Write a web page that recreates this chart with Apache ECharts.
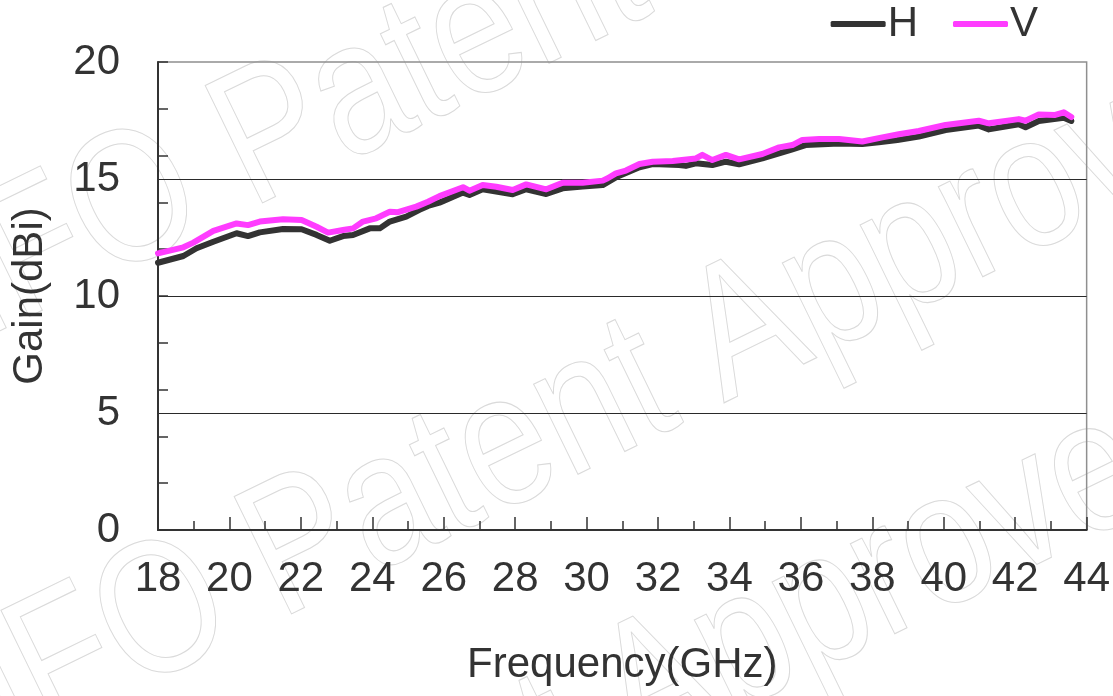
<!DOCTYPE html>
<html>
<head>
<meta charset="utf-8">
<script src="https://cdn.jsdelivr.net/npm/echarts@6/dist/echarts.min.js"></script>
<style>
  html, body { margin: 0; padding: 0; background: #fff; }
  #chart { width: 1113px; height: 696px; }
</style>
</head>
<body>
<div id="chart"></div>
<script>
// values (GHz / dBi)
var freqH = [18.0, 18.71, 19.08, 19.55, 20.2, 20.52, 20.85, 21.5, 22.02, 22.44, 22.81, 23.18, 23.46,
    23.93, 24.21, 24.49, 24.95, 25.32, 25.56, 25.88, 26.54, 26.72, 27.09, 27.93, 28.31, 28.87, 29.33,
    29.89, 30.45, 30.82, 31.48, 31.85, 32.59, 32.78, 33.06, 33.52, 33.9, 34.27, 34.92, 35.76, 36.13,
    37.07, 37.72, 38.18, 38.7, 39.3, 40.05, 40.98, 41.26, 42.1, 42.29, 42.66, 43.36, 43.57];
var gainH = [11.42, 11.71, 12.04, 12.32, 12.68, 12.56, 12.72, 12.86, 12.85, 12.61, 12.36, 12.56, 12.61,
    12.89, 12.89, 13.18, 13.39, 13.68, 13.85, 13.99, 14.42, 14.32, 14.56, 14.35, 14.56, 14.36, 14.6,
    14.68, 14.74, 15.07, 15.5, 15.64, 15.6, 15.56, 15.67, 15.6, 15.74, 15.63, 15.88, 16.27, 16.45,
    16.52, 16.5, 16.57, 16.67, 16.81, 17.09, 17.28, 17.12, 17.34, 17.21, 17.48, 17.62, 17.48];

var freqV = [18.0, 18.71, 18.99, 19.55, 20.2, 20.52, 20.85, 21.5, 22.02, 22.44, 22.76, 23.18, 23.46,
    23.74, 24.11, 24.49, 24.72, 25.23, 25.56, 25.88, 26.54, 26.72, 27.09, 27.47, 27.93, 28.31, 28.87,
    29.33, 29.89, 30.45, 30.59, 30.82, 31.1, 31.48, 31.85, 32.41, 33.06, 33.24, 33.52, 33.9, 34.27,
    34.92, 35.39, 35.76, 36.04, 36.51, 37.07, 37.72, 38.28, 38.74, 39.3, 40.05, 40.98, 41.26, 42.1,
    42.29, 42.66, 43.12, 43.36, 43.57];
var gainV = [11.82, 12.08, 12.28, 12.78, 13.1, 13.03, 13.18, 13.28, 13.25, 12.96, 12.71, 12.82, 12.89,
    13.18, 13.32, 13.6, 13.58, 13.82, 14.03, 14.27, 14.65, 14.5, 14.74, 14.67, 14.53, 14.77, 14.56,
    14.84, 14.84, 14.93, 15.03, 15.24, 15.36, 15.64, 15.74, 15.77, 15.88, 16.03, 15.81, 16.03, 15.84,
    16.07, 16.35, 16.45, 16.67, 16.71, 16.71, 16.6, 16.78, 16.91, 17.05, 17.31, 17.49, 17.38, 17.56,
    17.49, 17.76, 17.74, 17.85, 17.65];

var seriesNames = ['H', 'V'];
var xTicks = { min: 18, max: 44, step: 2 };
var yTicks = { min: 0, max: 20, step: 5, minorStep: 2 };

function pairs(xs, ys) {
    return xs.map(function (x, i) { return [x, ys[i]]; });
}

var font = "'Liberation Sans', Arial, sans-serif";
var ink = '#333333';

// faint outlined watermark rows
function watermark(cx, cy) {
    return {
        type: 'text',
        x: cx,
        y: cy,
        rotation: 26 * Math.PI / 180,
        scaleX: 0.82,
        z: -10,
        silent: true,
        style: {
            text: 'INFO Patent Approved',
            font: '190px ' + font,
            fill: 'none',
            stroke: '#dadada',
            lineWidth: 1.1,
            textAlign: 'center',
            textVerticalAlign: 'middle'
        }
    };
}

var chart = echarts.init(document.getElementById('chart'), null, { renderer: 'canvas' });

chart.setOption({
    animation: false,
    backgroundColor: '#fff',
    textStyle: { fontFamily: font },
    graphic: [watermark(563, -2), watermark(592, 409), watermark(504, 766)],
    legend: {
        data: seriesNames,
        icon: 'roundRect',
        right: 70,
        top: -2,
        itemWidth: 55,
        itemHeight: 6,
        itemGap: 35,
        textStyle: { fontSize: 42, color: ink, fontFamily: font, padding: [0, 0, 0, -3] }
    },
    grid: {
        left: 158,
        right: 25,
        top: 62,
        bottom: 166,
        show: true,
        borderColor: '#8f8f8f',
        borderWidth: 1.5
    },
    xAxis: {
        type: 'value',
        min: xTicks.min,
        max: xTicks.max,
        interval: xTicks.step,
        name: 'Frequency(GHz)',
        nameLocation: 'middle',
        nameGap: 114,
        nameTextStyle: { fontSize: 42, color: ink, fontFamily: font },
        axisLine: { show: true, lineStyle: { color: ink, width: 2 } },
        axisTick: { show: true, inside: true, length: 13, lineStyle: { color: ink, width: 1.5 } },
        minorTick: { show: true, splitNumber: 2, length: 9, lineStyle: { color: ink, width: 1.5 } },
        axisLabel: { fontSize: 42, color: ink, margin: 28, fontFamily: font },
        splitLine: { show: false }
    },
    yAxis: [{
        type: 'value',
        min: yTicks.min,
        max: yTicks.max,
        interval: yTicks.step,
        name: 'Gain(dBi)',
        nameLocation: 'middle',
        nameGap: 107,
        nameTextStyle: { fontSize: 42, color: ink, fontFamily: font },
        axisLine: { show: true, lineStyle: { color: ink, width: 2 } },
        axisTick: { show: false },
        axisLabel: { fontSize: 42, color: ink, margin: 38, fontFamily: font },
        splitLine: { show: true, showMinLine: false, showMaxLine: false, lineStyle: { color: '#2a2a2a', width: 1.2 } }
    }, {
        type: 'value',
        position: 'left',
        min: yTicks.min,
        max: yTicks.max,
        interval: yTicks.minorStep,
        axisLine: { show: false },
        axisTick: { show: true, inside: true, length: 10, lineStyle: { color: ink, width: 1.5 } },
        axisLabel: { show: false },
        splitLine: { show: false }
    }],
    series: [{
        name: seriesNames[0],
        type: 'line',
        yAxisIndex: 0,
        data: pairs(freqH, gainH),
        symbol: 'none',
        lineStyle: { color: '#333333', width: 6, join: 'round', cap: 'round' },
        itemStyle: { color: '#333333' }
    }, {
        name: seriesNames[1],
        type: 'line',
        yAxisIndex: 0,
        data: pairs(freqV, gainV),
        symbol: 'none',
        lineStyle: { color: '#ff3cff', width: 6, join: 'round', cap: 'round' },
        itemStyle: { color: '#ff3cff' }
    }]
});
</script>
</body>
</html>
